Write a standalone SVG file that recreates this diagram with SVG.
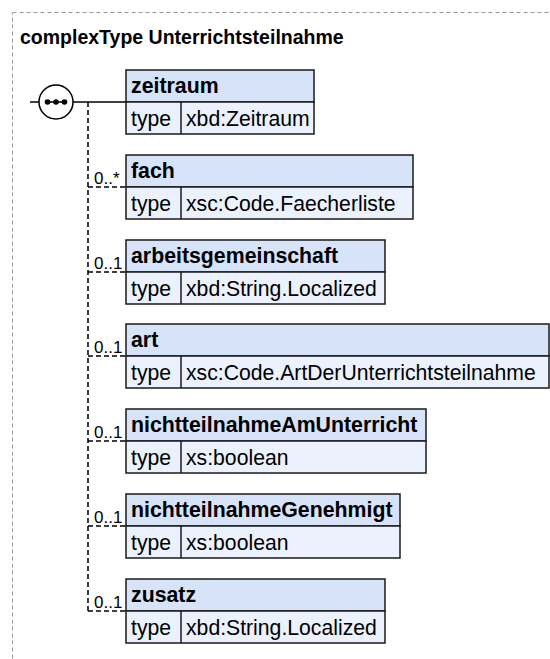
<svg xmlns="http://www.w3.org/2000/svg" width="550" height="659" viewBox="0 0 550 659">
<style>
.hd{fill:#d6e3f8;stroke:#1a1a1a;stroke-width:1.5}
.rw{fill:#ebf2fd;stroke:#1a1a1a;stroke-width:1.5}
.dv{stroke:#1a1a1a;stroke-width:1.5}
.nm{font-family:"Liberation Sans",Arial,sans-serif;font-weight:bold;font-size:21.3px;fill:#000}
.tx{font-family:"Liberation Sans",Arial,sans-serif;font-size:21.2px;fill:#000}
.oc{font-family:"Liberation Sans",Arial,sans-serif;font-size:17px;fill:#000}
.cn{stroke:#000;stroke-width:1.5;fill:none}
.dc{stroke:#000;stroke-width:1.5;fill:none;stroke-dasharray:5,3}
</style>
<rect x="12.5" y="12.5" width="560" height="680" fill="none" stroke="#999" stroke-width="1" stroke-dasharray="4,3"/>
<text x="20" y="44" font-family="Liberation Sans,Arial,sans-serif" font-weight="bold" font-size="19.5px">complexType Unterrichtsteilnahme</text>
<g id="sequence">
<circle cx="56" cy="102" r="17" fill="#fff" stroke="#000" stroke-width="1.5"/>
<line x1="47" y1="102" x2="65" y2="102" stroke="#000" stroke-width="1.5"/>
<circle cx="47.5" cy="102" r="2.8" fill="#000"/>
<circle cx="56" cy="102" r="2.8" fill="#000"/>
<circle cx="64.5" cy="102" r="2.8" fill="#000"/>
</g>
<g id="connectors">
<line class="cn" x1="30" y1="102" x2="39" y2="102"/>
<line class="cn" x1="73" y1="102" x2="126" y2="102"/>
<line class="dc" x1="88" y1="102" x2="88" y2="612"/>
<line class="dc" x1="88" y1="187" x2="126" y2="187"/>
<line class="dc" x1="88" y1="272" x2="126" y2="272"/>
<line class="dc" x1="88" y1="356" x2="126" y2="356"/>
<line class="dc" x1="88" y1="441" x2="126" y2="441"/>
<line class="dc" x1="88" y1="526" x2="126" y2="526"/>
<line class="dc" x1="88" y1="611" x2="126" y2="611"/>
<text class="oc" x="94" y="184">0..*</text>
<text class="oc" x="94" y="269">0..1</text>
<text class="oc" x="94" y="353">0..1</text>
<text class="oc" x="94" y="438">0..1</text>
<text class="oc" x="94" y="523">0..1</text>
<text class="oc" x="94" y="608">0..1</text>
</g>
<g id="zeitraum">
<rect class="hd" x="126" y="70" width="188" height="32"/>
<rect class="rw" x="126" y="102" width="188" height="32"/>
<line class="dv" x1="181" y1="102" x2="181" y2="134"/>
<text class="nm" x="131" y="93">zeitraum</text>
<text class="tx" x="131" y="126">type</text>
<text class="tx" x="186" y="126">xbd:Zeitraum</text>
</g>
<g id="fach">
<rect class="hd" x="126" y="155" width="287" height="32"/>
<rect class="rw" x="126" y="187" width="287" height="32"/>
<line class="dv" x1="181" y1="187" x2="181" y2="219"/>
<text class="nm" x="131" y="178">fach</text>
<text class="tx" x="131" y="211">type</text>
<text class="tx" x="186" y="211">xsc:Code.Faecherliste</text>
</g>
<g id="arbeitsgemeinschaft">
<rect class="hd" x="126" y="240" width="259" height="32"/>
<rect class="rw" x="126" y="272" width="259" height="32"/>
<line class="dv" x1="181" y1="272" x2="181" y2="304"/>
<text class="nm" x="131" y="263">arbeitsgemeinschaft</text>
<text class="tx" x="131" y="296">type</text>
<text class="tx" x="186" y="296">xbd:String.Localized</text>
</g>
<g id="art">
<rect class="hd" x="126" y="324" width="423" height="32"/>
<rect class="rw" x="126" y="356" width="423" height="32"/>
<line class="dv" x1="181" y1="356" x2="181" y2="388"/>
<text class="nm" x="131" y="347">art</text>
<text class="tx" x="131" y="380">type</text>
<text class="tx" x="186" y="380">xsc:Code.ArtDerUnterrichtsteilnahme</text>
</g>
<g id="nichtteilnahmeAmUnterricht">
<rect class="hd" x="126" y="409" width="300" height="32"/>
<rect class="rw" x="126" y="441" width="300" height="32"/>
<line class="dv" x1="181" y1="441" x2="181" y2="473"/>
<text class="nm" x="131" y="432">nichtteilnahmeAmUnterricht</text>
<text class="tx" x="131" y="465">type</text>
<text class="tx" x="186" y="465">xs:boolean</text>
</g>
<g id="nichtteilnahmeGenehmigt">
<rect class="hd" x="126" y="494" width="274" height="32"/>
<rect class="rw" x="126" y="526" width="274" height="32"/>
<line class="dv" x1="181" y1="526" x2="181" y2="558"/>
<text class="nm" x="131" y="517">nichtteilnahmeGenehmigt</text>
<text class="tx" x="131" y="550">type</text>
<text class="tx" x="186" y="550">xs:boolean</text>
</g>
<g id="zusatz">
<rect class="hd" x="126" y="579" width="259" height="32"/>
<rect class="rw" x="126" y="611" width="259" height="32"/>
<line class="dv" x1="181" y1="611" x2="181" y2="643"/>
<text class="nm" x="131" y="602">zusatz</text>
<text class="tx" x="131" y="635">type</text>
<text class="tx" x="186" y="635">xbd:String.Localized</text>
</g>
</svg>
